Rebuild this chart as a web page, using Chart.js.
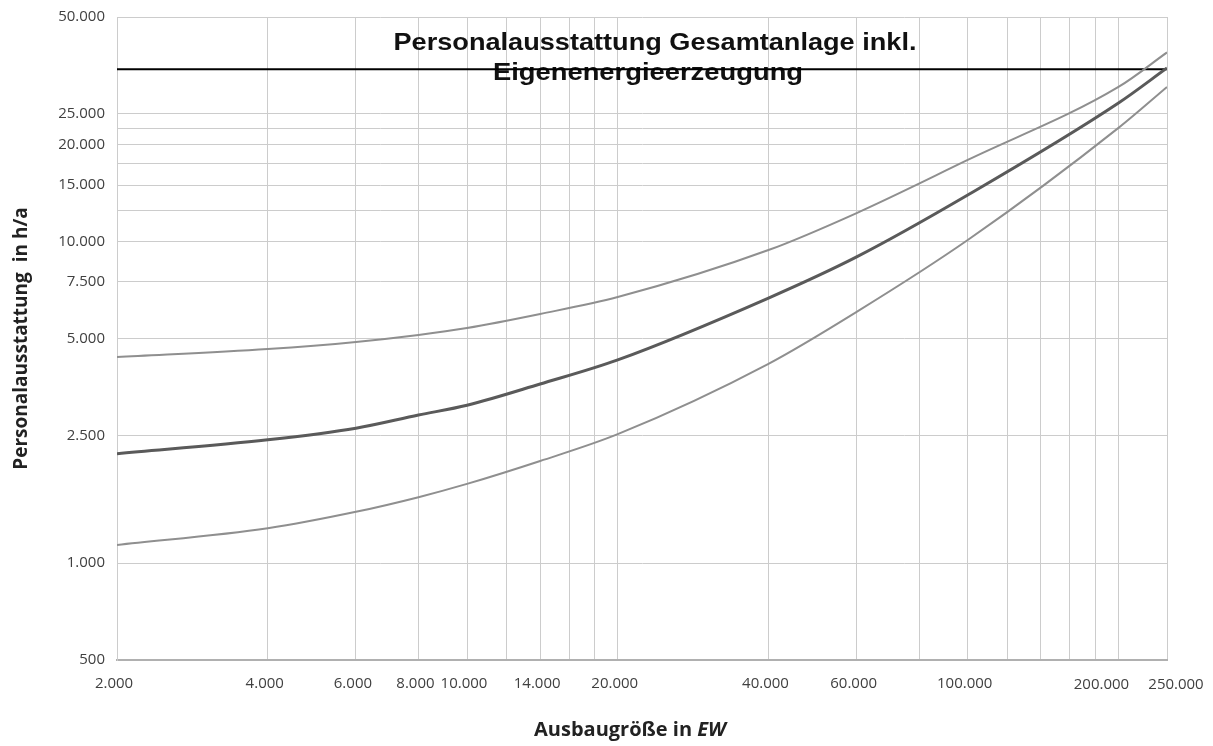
<!DOCTYPE html>
<html>
<head>
<meta charset="utf-8">
<script src="https://cdn.jsdelivr.net/npm/chart.js@4"></script>
<style>
  html, body { margin: 0; padding: 0; background: #fff; }
  #wrap { width: 1213px; height: 746px; }
</style>
</head>
<body>
<div id="wrap"><canvas id="personalChart" width="1213" height="746"></canvas></div>
<script>
// Achsenraster und Beschriftungen
const xTicks = [2000, 4000, 6000, 8000, 10000, 12000, 14000, 16000, 18000, 20000,
                40000, 60000, 80000, 100000, 120000, 140000, 160000, 180000, 200000, 250000];
const xLabeled = [2000, 4000, 6000, 8000, 10000, 14000, 20000, 40000, 60000, 100000];
const xLabeledEnd = [200000, 250000];   // am rechten Rand versetzt beschriftet
const yTicks = [500, 1000, 2500, 5000, 7500, 10000, 12500, 15000, 17500, 20000, 22500, 25000, 50000];
const yLabeled = [500, 1000, 2500, 5000, 7500, 10000, 15000, 20000, 25000, 50000];

// Ausbaugröße in EW und Personalausstattung in h/a
const ausbau      = [2000, 4000, 6000, 8000, 10000, 14000, 20000, 40000, 60000, 100000, 200000, 250000];
const oberGrenze  = [4380, 4640, 4880, 5130, 5390, 5960, 6730, 9420, 12280, 17960, 30300, 38800];
const mittelwert  = [2190, 2420, 2630, 2890, 3100, 3610, 4290, 6680, 8970, 13970, 27000, 34700];
const unterGrenze = [1140, 1285, 1445, 1605, 1765, 2080, 2520, 4170, 6050, 10120, 22600, 30300];
const grenzLinie  = 34400;

const fmt = v => String(v).replace(/\B(?=(\d{3})+(?!\d))/g, '.');
const pts = arr => ausbau.map((x, i) => ({ x: x, y: arr[i] }));
const tickFont = '15px "Open Sans", sans-serif';

const overlayText = {
    id: 'overlayText',
    beforeDatasetsDraw(chart) {
        const c = chart.ctx;
        c.save();
        c.fillStyle = '#111';
        c.textAlign = 'center';
        c.textBaseline = 'alphabetic';
        c.font = 'bold 24px "Liberation Sans", Arial, sans-serif';
        c.save();
        c.translate(655, 50);
        c.scale(1.13, 1);
        c.fillText('Personalausstattung Gesamtanlage inkl.', 0, 0);
        c.restore();
        c.translate(648, 80);
        c.scale(1.14, 1);
        c.fillText('Eigenenergieerzeugung', 0, 0);
        c.restore();
    },
    afterDraw(chart) {
        const c = chart.ctx;
        // rechte Randbeschriftungen der x-Achse
        const xs = chart.scales.x;
        c.save();
        c.fillStyle = '#404040';
        c.font = tickFont;
        c.textAlign = 'center';
        c.textBaseline = 'middle';
        const shift = [-17, 9];
        xLabeledEnd.forEach((v, i) => {
            c.fillText(fmt(v), xs.getPixelForValue(v) + shift[i], 685);
        });
        c.restore();

        // x-Achsentitel mit kursivem "EW"
        c.save();
        c.fillStyle = '#222';
        c.textBaseline = 'middle';
        c.textAlign = 'left';
        const a = 'Ausbaugröße in ';
        const b = 'EW';
        c.font = 'bold 20px "Open Sans", sans-serif';
        const wa = c.measureText(a).width;
        c.font = 'italic bold 20px "Open Sans", sans-serif';
        const wb = c.measureText(b).width;
        const x0 = 630 - (wa + wb) / 2;
        c.font = 'bold 20px "Open Sans", sans-serif';
        c.fillText(a, x0, 730);
        c.font = 'italic bold 20px "Open Sans", sans-serif';
        c.fillText(b, x0 + wa, 730);
        c.restore();
    }
};

new Chart(document.getElementById('personalChart'), {
    type: 'line',
    data: {
        datasets: [
            { data: pts(oberGrenze), borderColor: '#8f8f8f', borderWidth: 2, cubicInterpolationMode: 'monotone' },
            { data: pts(mittelwert), borderColor: '#5a5a5a', borderWidth: 3, cubicInterpolationMode: 'monotone' },
            { data: pts(unterGrenze), borderColor: '#8f8f8f', borderWidth: 2, cubicInterpolationMode: 'monotone' },
            { data: [{ x: 2000, y: grenzLinie }, { x: 250000, y: grenzLinie }],
              borderColor: '#000', borderWidth: 2 }
        ]
    },
    options: {
        responsive: false,
        animation: false,
        layout: { padding: { left: 0, right: 46, top: 17, bottom: 0 } },
        elements: { point: { radius: 0 } },
        plugins: { legend: { display: false }, tooltip: { enabled: false } },
        scales: {
            x: {
                type: 'logarithmic',
                min: 2000,
                max: 250000,
                afterBuildTicks: s => { s.ticks = xTicks.map(v => ({ value: v })); },
                afterFit: s => { s.height = 86; s.paddingLeft = 0; s.paddingRight = 0; },
                grid: { color: '#cccccc', drawTicks: false },
                border: { color: '#b0b0b0', width: 2 },
                ticks: {
                    autoSkip: false, maxRotation: 0, padding: 15, labelOffset: -3,
                    color: '#404040', font: { family: 'Open Sans', size: 15 },
                    callback: v => xLabeled.includes(v) ? fmt(v) : ''
                }
            },
            y: {
                type: 'logarithmic',
                min: 500,
                max: 50000,
                afterBuildTicks: s => { s.ticks = yTicks.map(v => ({ value: v })); },
                afterFit: s => { s.width = 117; s.paddingTop = 0; s.paddingBottom = 0; },
                grid: { color: '#cccccc', drawTicks: false },
                border: { color: '#cccccc' },
                ticks: {
                    autoSkip: false, padding: 12,
                    color: '#404040', font: { family: 'Open Sans', size: 15 },
                    callback: v => yLabeled.includes(v) ? fmt(v) : ''
                },
                title: {
                    display: true,
                    text: 'Personalausstattung  in h/a',
                    color: '#222',
                    font: { family: 'Open Sans', size: 19, weight: 'bold' },
                    padding: { top: 10, bottom: 0 }
                }
            }
        }
    },
    plugins: [overlayText]
});
</script>
</body>
</html>
